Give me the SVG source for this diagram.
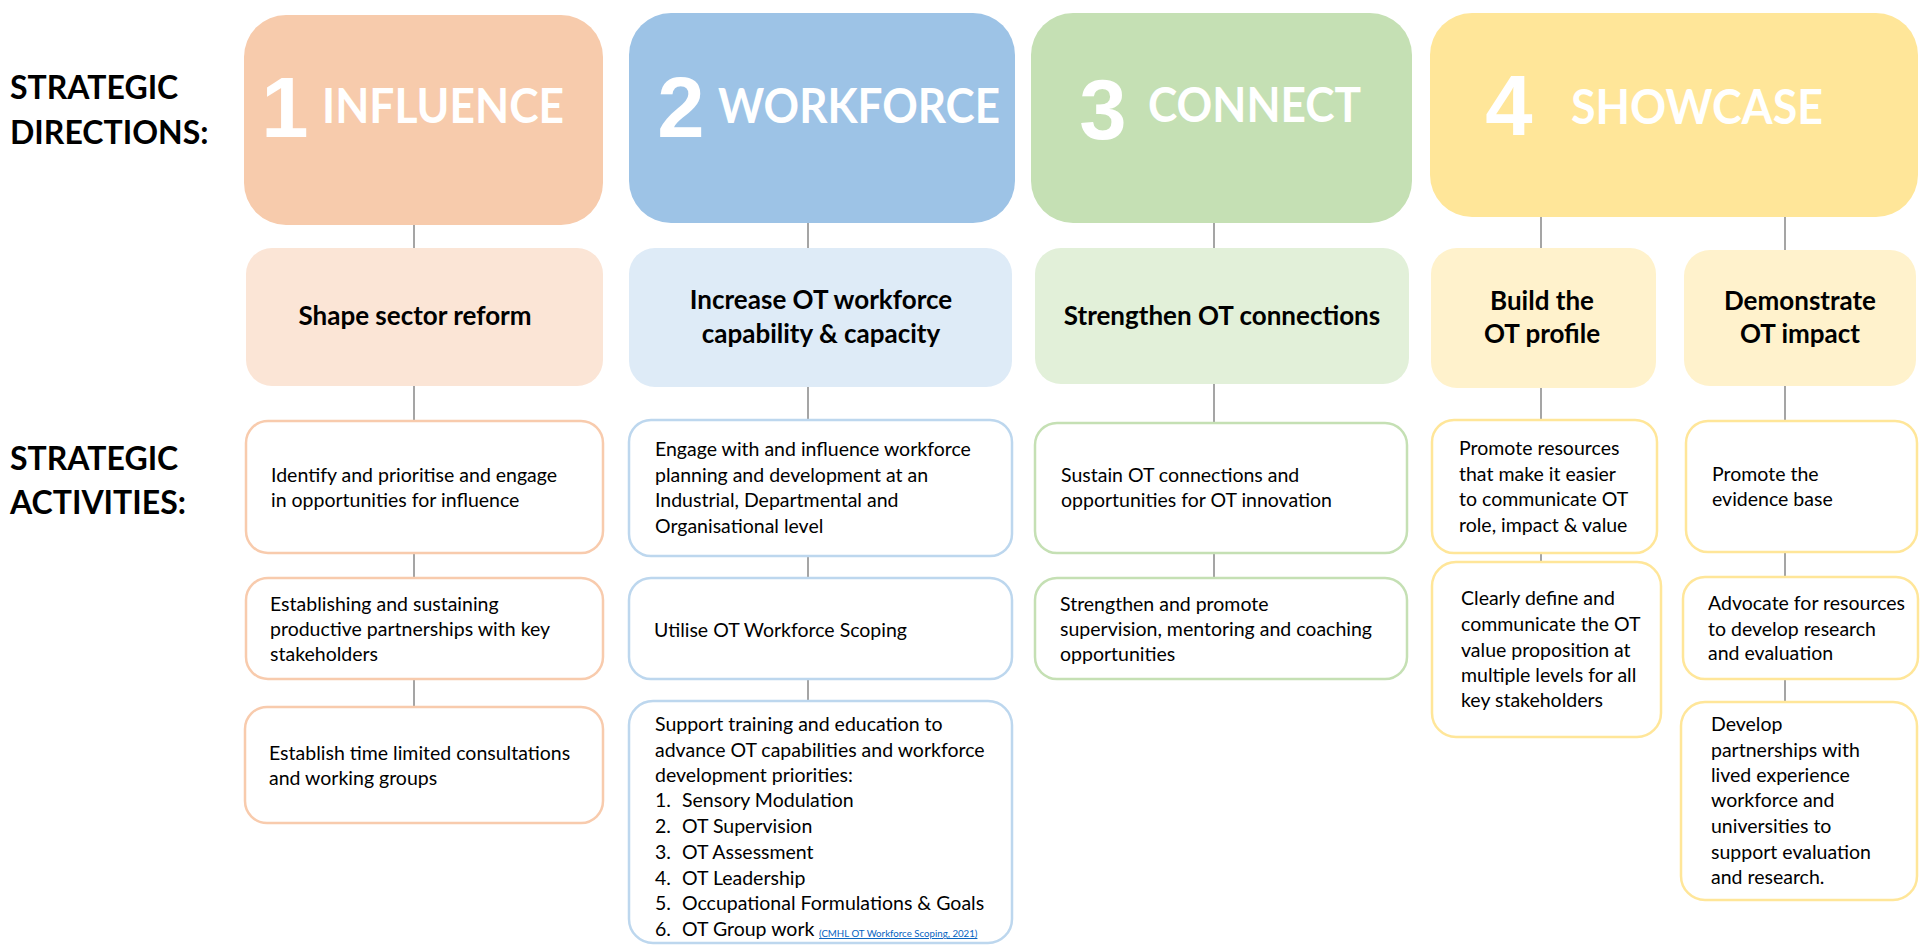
<svg xmlns="http://www.w3.org/2000/svg" width="1923" height="946" viewBox="0 0 1923 946">
<style>
.lbl{font-family:Lato,"Liberation Sans",sans-serif;font-weight:700;font-size:32px;fill:#000}
.num{font-family:"Liberation Sans",Arial,sans-serif;font-weight:700;font-size:85px;fill:#fff;text-anchor:middle}
.ttl{font-family:Lato,"Liberation Sans",sans-serif;font-weight:700;font-size:48px;fill:#fff}
.sub{font-family:Lato,"Liberation Sans",sans-serif;font-weight:700;font-size:26px;fill:#000;text-anchor:middle}
.txt{font-family:Lato,"Liberation Sans",sans-serif;font-size:19.5px;fill:#000}
.cite{font-family:Lato,"Liberation Sans",sans-serif;font-size:9.7px;fill:#0563C1;text-decoration:underline}
.conn line{stroke:#A5A5A5;stroke-width:2}
.a1{fill:#fff;stroke:#F8CBAD;stroke-width:2.5}
.a2{fill:#fff;stroke:#BDD7EE;stroke-width:2.5}
.a3{fill:#fff;stroke:#C5E0B4;stroke-width:2.5}
.a4{fill:#fff;stroke:#FFE699;stroke-width:2.5}
</style>
<rect width="1923" height="946" fill="#fff"/>

<g id="labels">
<text class="lbl" x="10" y="99">STRATEGIC</text>
<text class="lbl" x="10" y="144">DIRECTIONS:</text>
<text class="lbl" x="10" y="470">STRATEGIC</text>
<text class="lbl" x="10" y="514">ACTIVITIES:</text>
</g>

<g id="connectors" class="conn">
<line x1="414" y1="224" x2="414" y2="249"/>
<line x1="414" y1="386" x2="414" y2="422"/>
<line x1="414" y1="553" x2="414" y2="579"/>
<line x1="414" y1="679" x2="414" y2="708"/>
<line x1="808" y1="223" x2="808" y2="249"/>
<line x1="808" y1="386" x2="808" y2="421"/>
<line x1="808" y1="556" x2="808" y2="579"/>
<line x1="808" y1="679" x2="808" y2="702"/>
<line x1="1214" y1="223" x2="1214" y2="249"/>
<line x1="1214" y1="384" x2="1214" y2="424"/>
<line x1="1214" y1="553" x2="1214" y2="579"/>
<line x1="1541" y1="217" x2="1541" y2="249"/>
<line x1="1541" y1="388" x2="1541" y2="421"/>
<line x1="1541" y1="553" x2="1541" y2="563"/>
<line x1="1785" y1="217" x2="1785" y2="251"/>
<line x1="1785" y1="386" x2="1785" y2="422"/>
<line x1="1785" y1="552" x2="1785" y2="578"/>
<line x1="1785" y1="679" x2="1785" y2="703"/>
</g>

<g id="dir1">
<rect x="244" y="15" width="359" height="210" rx="42" fill="#F7CBAC"/>
<text class="num" x="285" y="137">1</text>
<text class="ttl" x="322" y="123" textLength="242" lengthAdjust="spacingAndGlyphs">INFLUENCE</text>
</g>
<g id="dir2">
<rect x="629" y="13" width="386" height="210" rx="42" fill="#9DC3E6"/>
<text class="num" x="681" y="137">2</text>
<text class="ttl" x="718" y="123" textLength="282" lengthAdjust="spacingAndGlyphs">WORKFORCE</text>
</g>
<g id="dir3">
<rect x="1031" y="13" width="381" height="210" rx="42" fill="#C5E0B4"/>
<text class="num" x="1103" y="139">3</text>
<text class="ttl" x="1148" y="122" textLength="213" lengthAdjust="spacingAndGlyphs">CONNECT</text>
</g>
<g id="dir4">
<rect x="1430" y="13" width="488" height="204" rx="42" fill="#FFE699"/>
<text class="num" x="1509" y="135">4</text>
<text class="ttl" x="1571" y="124" textLength="252" lengthAdjust="spacingAndGlyphs">SHOWCASE</text>
</g>

<g id="goal1">
<rect x="246" y="248" width="357" height="138" rx="26" fill="#FBE5D6"/>
<text class="sub" x="415" y="325">Shape sector reform</text>
</g>
<g id="goal2">
<rect x="629" y="248" width="383" height="139" rx="26" fill="#DEEBF7"/>
<text class="sub" x="821" y="309">Increase OT workforce</text>
<text class="sub" x="821" y="343">capability &amp; capacity</text>
</g>
<g id="goal3">
<rect x="1035" y="248" width="374" height="136" rx="26" fill="#E2F0D9"/>
<text class="sub" x="1222" y="325">Strengthen OT connections</text>
</g>
<g id="goal4a">
<rect x="1431" y="248" width="225" height="140" rx="26" fill="#FFF2CC"/>
<text class="sub" x="1542" y="310">Build the</text>
<text class="sub" x="1542" y="343">OT profile</text>
</g>
<g id="goal4b">
<rect x="1684" y="250" width="232" height="136" rx="26" fill="#FFF2CC"/>
<text class="sub" x="1800" y="310">Demonstrate</text>
<text class="sub" x="1800" y="343">OT impact</text>
</g>

<g id="act1a">
<rect class="a1" x="246" y="421" width="357" height="132" rx="22"/>
<text class="txt" x="271" y="482">Identify and prioritise and engage</text>
<text class="txt" x="271" y="507">in opportunities for influence</text>
</g>
<g id="act1b">
<rect class="a1" x="246" y="578" width="357" height="101" rx="22"/>
<text class="txt" x="270" y="611">Establishing and sustaining</text>
<text class="txt" x="270" y="636">productive partnerships with key</text>
<text class="txt" x="270" y="661">stakeholders</text>
</g>
<g id="act1c">
<rect class="a1" x="245" y="707" width="358" height="116" rx="22"/>
<text class="txt" x="269" y="760">Establish time limited consultations</text>
<text class="txt" x="269" y="785">and working groups</text>
</g>

<g id="act2a">
<rect class="a2" x="629" y="420" width="383" height="136" rx="22"/>
<text class="txt" x="655" y="456">Engage with and influence workforce</text>
<text class="txt" x="655" y="482">planning and development at an</text>
<text class="txt" x="655" y="507">Industrial, Departmental and</text>
<text class="txt" x="655" y="533">Organisational level</text>
</g>
<g id="act2b">
<rect class="a2" x="629" y="578" width="383" height="101" rx="22"/>
<text class="txt" x="654" y="637">Utilise OT Workforce Scoping</text>
</g>
<g id="act2c">
<rect class="a2" x="629" y="701" width="383" height="242" rx="24"/>
<text class="txt" x="655" y="731">Support training and education to</text>
<text class="txt" x="655" y="757">advance OT capabilities and workforce</text>
<text class="txt" x="655" y="782">development priorities:</text>
<text class="txt" x="655" y="807">1.</text><text class="txt" x="682" y="807">Sensory Modulation</text>
<text class="txt" x="655" y="833">2.</text><text class="txt" x="682" y="833">OT Supervision</text>
<text class="txt" x="655" y="859">3.</text><text class="txt" x="682" y="859">OT Assessment</text>
<text class="txt" x="655" y="885">4.</text><text class="txt" x="682" y="885">OT Leadership</text>
<text class="txt" x="655" y="910">5.</text><text class="txt" x="682" y="910">Occupational Formulations &amp; Goals</text>
<text class="txt" x="655" y="936">6.</text><text class="txt" x="682" y="936">OT Group work</text>
<text class="cite" x="819" y="937">(CMHL OT Workforce Scoping, 2021)</text>
</g>

<g id="act3a">
<rect class="a3" x="1035" y="423" width="372" height="130" rx="22"/>
<text class="txt" x="1061" y="482">Sustain OT connections and</text>
<text class="txt" x="1061" y="507">opportunities for OT innovation</text>
</g>
<g id="act3b">
<rect class="a3" x="1035" y="578" width="372" height="101" rx="22"/>
<text class="txt" x="1060" y="611">Strengthen and promote</text>
<text class="txt" x="1060" y="636">supervision, mentoring and coaching</text>
<text class="txt" x="1060" y="661">opportunities</text>
</g>

<g id="act4a1">
<rect class="a4" x="1432" y="420" width="225" height="133" rx="22"/>
<text class="txt" x="1459" y="455">Promote resources</text>
<text class="txt" x="1459" y="481">that make it easier</text>
<text class="txt" x="1459" y="506">to communicate OT</text>
<text class="txt" x="1459" y="532">role, impact &amp; value</text>
</g>
<g id="act4a2">
<rect class="a4" x="1432" y="562" width="229" height="175" rx="24"/>
<text class="txt" x="1461" y="605">Clearly define and</text>
<text class="txt" x="1461" y="631">communicate the OT</text>
<text class="txt" x="1461" y="657">value proposition at</text>
<text class="txt" x="1461" y="682">multiple levels for all</text>
<text class="txt" x="1461" y="707">key stakeholders</text>
</g>

<g id="act4b1">
<rect class="a4" x="1686" y="421" width="231" height="131" rx="22"/>
<text class="txt" x="1712" y="481">Promote the</text>
<text class="txt" x="1712" y="506">evidence base</text>
</g>
<g id="act4b2">
<rect class="a4" x="1683" y="577" width="235" height="102" rx="22"/>
<text class="txt" x="1708" y="610">Advocate for resources</text>
<text class="txt" x="1708" y="636">to develop research</text>
<text class="txt" x="1708" y="660">and evaluation</text>
</g>
<g id="act4b3">
<rect class="a4" x="1681" y="702" width="236" height="198" rx="24"/>
<text class="txt" x="1711" y="731">Develop</text>
<text class="txt" x="1711" y="757">partnerships with</text>
<text class="txt" x="1711" y="782">lived experience</text>
<text class="txt" x="1711" y="807">workforce and</text>
<text class="txt" x="1711" y="833">universities to</text>
<text class="txt" x="1711" y="859">support evaluation</text>
<text class="txt" x="1711" y="884">and research.</text>
</g>
</svg>
